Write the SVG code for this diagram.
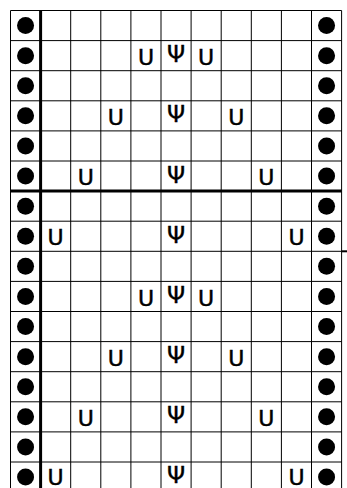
<svg xmlns="http://www.w3.org/2000/svg" xmlns:xlink="http://www.w3.org/1999/xlink" width="347" height="488" viewBox="0 0 347 488">
<style>
.thin{stroke:#000;stroke-width:1;fill:none}
.thick{stroke:#000;stroke-width:3;fill:none}
.u{font-family:"DejaVu Sans",sans-serif;font-size:22px;text-anchor:middle;fill:#000;stroke:#000;stroke-width:0.5}
.psi{font-family:"DejaVu Sans",sans-serif;font-size:23px;text-anchor:middle;fill:#000;stroke:#000;stroke-width:0.4}
</style>
<defs>
<circle id="dot" r="8.5" fill="#000"/>
</defs>
<rect width="347" height="488" fill="#fff"/>
<g id="grid">
<path class="thin" d="M10.5 10.5V488M70.7 10.5V488M100.8 10.5V488M130.9 10.5V488M161 10.5V488M191.1 10.5V488M221.2 10.5V488M251.3 10.5V488M281.4 10.5V488M311.5 10.5V488M341.6 10.5V488"/>
<path class="thin" d="M10.5 10.5H341.6M10.5 40.6H341.6M10.5 70.7H341.6M10.5 100.8H341.6M10.5 130.9H341.6M10.5 161H341.6M10.5 221.2H341.6M10.5 251.3H341.6M10.5 281.4H341.6M10.5 311.5H341.6M10.5 341.6H341.6M10.5 371.7H341.6M10.5 401.8H341.6M10.5 431.9H341.6M10.5 462H341.6"/>
<path class="thick" d="M40.6 10.5V488M10.5 190.9H341.6"/>
<path stroke="#000" stroke-width="2" d="M341.6 251.3H347"/>
</g>
<g id="edge-dots">
<use xlink:href="#dot" x="25.55" y="25.55"/><use xlink:href="#dot" x="326.55" y="25.55"/>
<use xlink:href="#dot" x="25.55" y="55.65"/><use xlink:href="#dot" x="326.55" y="55.65"/>
<use xlink:href="#dot" x="25.55" y="85.75"/><use xlink:href="#dot" x="326.55" y="85.75"/>
<use xlink:href="#dot" x="25.55" y="115.85"/><use xlink:href="#dot" x="326.55" y="115.85"/>
<use xlink:href="#dot" x="25.55" y="145.95"/><use xlink:href="#dot" x="326.55" y="145.95"/>
<use xlink:href="#dot" x="25.55" y="176.05"/><use xlink:href="#dot" x="326.55" y="176.05"/>
<use xlink:href="#dot" x="25.55" y="206.15"/><use xlink:href="#dot" x="326.55" y="206.15"/>
<use xlink:href="#dot" x="25.55" y="236.25"/><use xlink:href="#dot" x="326.55" y="236.25"/>
<use xlink:href="#dot" x="25.55" y="266.35"/><use xlink:href="#dot" x="326.55" y="266.35"/>
<use xlink:href="#dot" x="25.55" y="296.45"/><use xlink:href="#dot" x="326.55" y="296.45"/>
<use xlink:href="#dot" x="25.55" y="326.55"/><use xlink:href="#dot" x="326.55" y="326.55"/>
<use xlink:href="#dot" x="25.55" y="356.65"/><use xlink:href="#dot" x="326.55" y="356.65"/>
<use xlink:href="#dot" x="25.55" y="386.75"/><use xlink:href="#dot" x="326.55" y="386.75"/>
<use xlink:href="#dot" x="25.55" y="416.85"/><use xlink:href="#dot" x="326.55" y="416.85"/>
<use xlink:href="#dot" x="25.55" y="446.95"/><use xlink:href="#dot" x="326.55" y="446.95"/>
<use xlink:href="#dot" x="25.55" y="477.05"/><use xlink:href="#dot" x="326.55" y="477.05"/>
</g>
<g id="row1"><text class="u" x="145.95" y="64.8">U</text><text class="psi" x="176.05" y="62.1">Ψ</text><text class="u" x="206.15" y="64.8">U</text></g>
<g id="row3"><text class="u" x="115.85" y="125">U</text><text class="psi" x="176.05" y="122.3">Ψ</text><text class="u" x="236.25" y="125">U</text></g>
<g id="row5"><text class="u" x="85.75" y="185.2">U</text><text class="psi" x="176.05" y="182.5">Ψ</text><text class="u" x="266.35" y="185.2">U</text></g>
<g id="row7"><text class="u" x="55.65" y="245.4">U</text><text class="psi" x="176.05" y="242.7">Ψ</text><text class="u" x="296.45" y="245.4">U</text></g>
<g id="row9"><text class="u" x="145.95" y="305.6">U</text><text class="psi" x="176.05" y="302.9">Ψ</text><text class="u" x="206.15" y="305.6">U</text></g>
<g id="row11"><text class="u" x="115.85" y="365.8">U</text><text class="psi" x="176.05" y="363.1">Ψ</text><text class="u" x="236.25" y="365.8">U</text></g>
<g id="row13"><text class="u" x="85.75" y="426">U</text><text class="psi" x="176.05" y="423.3">Ψ</text><text class="u" x="266.35" y="426">U</text></g>
<g id="row15"><text class="u" x="55.65" y="485.4">U</text><text class="psi" x="176.05" y="483.3">Ψ</text><text class="u" x="296.45" y="485.4">U</text></g>
</svg>
